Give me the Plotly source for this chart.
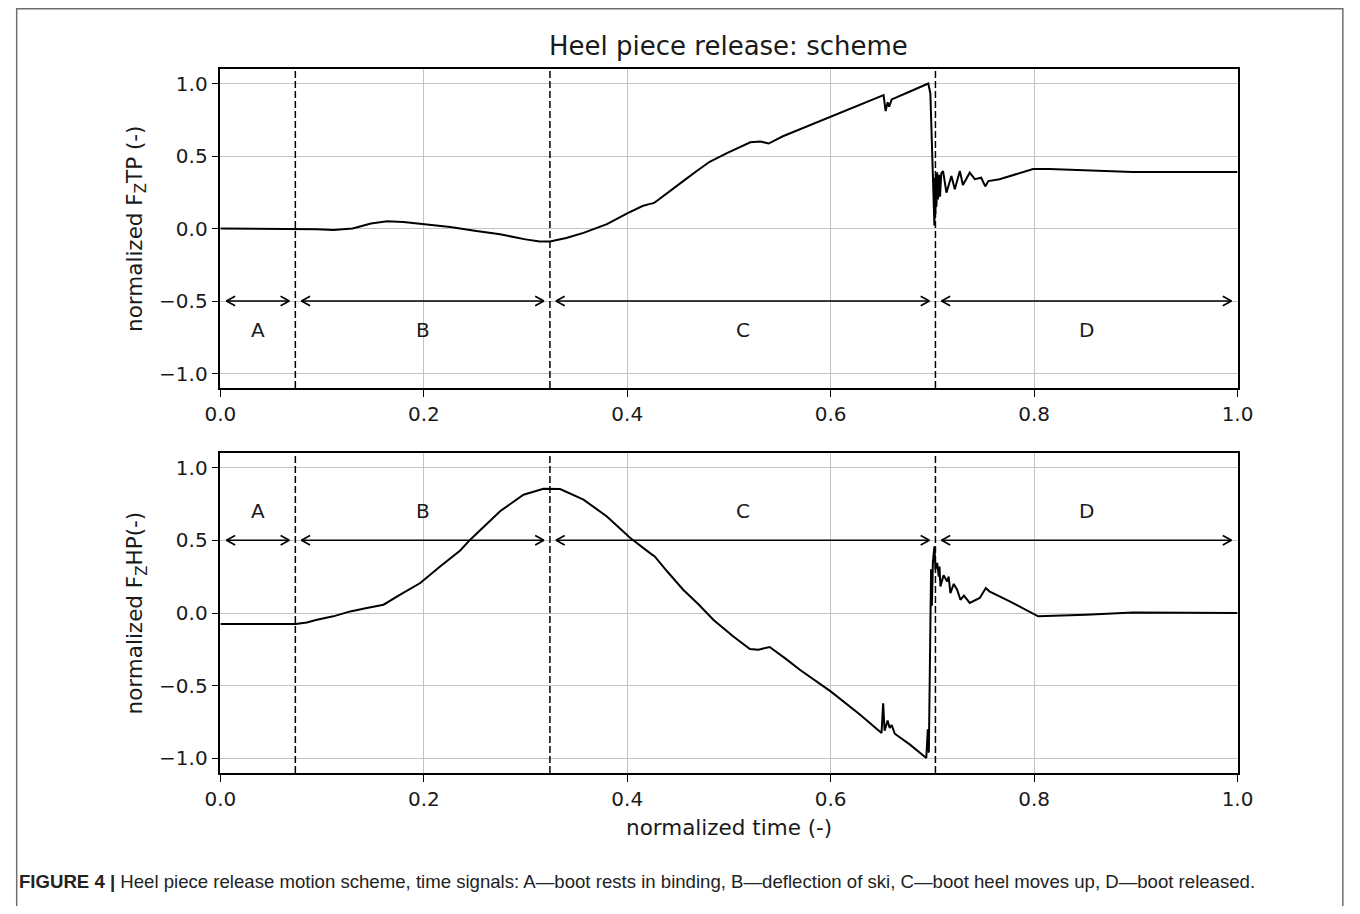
import plotly.graph_objects as go

# ---------------- data ----------------
t_tp = [0.0, 0.05, 0.074, 0.095, 0.111, 0.13, 0.148, 0.164, 0.18, 0.2, 0.226, 0.25, 0.275, 0.3,
        0.314, 0.324, 0.34, 0.357, 0.38, 0.40, 0.415, 0.4224, 0.426, 0.429, 0.44, 0.455, 0.468,
        0.481, 0.498, 0.51, 0.521, 0.531, 0.539, 0.553, 0.575, 0.6, 0.629, 0.650, 0.652, 0.654,
        0.656, 0.6575, 0.66, 0.678, 0.696, 0.698, 0.6995, 0.701, 0.702, 0.7025, 0.703, 0.7035,
        0.704, 0.7047, 0.7055, 0.7065, 0.7075, 0.7087, 0.7105, 0.7138, 0.7187, 0.722, 0.727,
        0.730, 0.7367, 0.7417, 0.748, 0.752, 0.755, 0.766, 0.7826, 0.799, 0.815, 0.848, 0.897, 1.0]
f_tp = [0.0, 0.0, 0.0, -0.005, -0.01, 0.0, 0.035, 0.05, 0.045, 0.03, 0.01, -0.015, -0.04, -0.075,
        -0.09, -0.09, -0.065, -0.03, 0.03, 0.105, 0.155, 0.17, 0.175, 0.19, 0.25, 0.327, 0.395,
        0.46, 0.52, 0.56, 0.595, 0.60, 0.586, 0.636, 0.70, 0.774, 0.854, 0.915, 0.92, 0.81,
        0.87, 0.84, 0.89, 0.945, 1.0, 0.93, 0.6, 0.25, 0.02, 0.35, 0.1, 0.38,
        0.15, 0.387, 0.2, 0.37, 0.22, 0.38, 0.396, 0.247, 0.362, 0.27, 0.396,
        0.30, 0.385, 0.34, 0.35, 0.29, 0.327, 0.34, 0.373, 0.41, 0.41, 0.40, 0.39, 0.39]

t_hp = [0.0, 0.074, 0.085, 0.095, 0.111, 0.1277, 0.144, 0.1604, 0.1768, 0.1965, 0.216, 0.2358,
        0.2456, 0.26, 0.275, 0.298, 0.3176, 0.334, 0.357, 0.380, 0.403, 0.4224, 0.427, 0.44, 0.455,
        0.47, 0.4846, 0.504, 0.5206, 0.529, 0.540, 0.555, 0.5697, 0.6, 0.629, 0.650, 0.6516, 0.653,
        0.656, 0.658, 0.66, 0.663, 0.678, 0.694, 0.6955, 0.6965, 0.6987, 0.6995, 0.7005, 0.702,
        0.703, 0.7047, 0.7063, 0.707, 0.7079, 0.711, 0.7145, 0.716, 0.7177, 0.721, 0.7243, 0.7276,
        0.731, 0.7367, 0.7466, 0.7525, 0.756, 0.776, 0.799, 0.804, 0.851, 0.897, 1.0]
f_hp = [-0.076, -0.076, -0.065, -0.046, -0.023, 0.011, 0.034, 0.057, 0.126, 0.206, 0.32, 0.43,
        0.504, 0.60, 0.70, 0.813, 0.854, 0.852, 0.779, 0.664, 0.515, 0.412, 0.389, 0.28, 0.16,
        0.06, -0.046, -0.16, -0.247, -0.252, -0.234, -0.31, -0.39, -0.539, -0.699, -0.825, -0.62, -0.81,
        -0.74, -0.79, -0.77, -0.83, -0.905, -0.997, -0.80, -0.96, 0.30, 0.05, 0.35, 0.458,
        0.30, 0.344, 0.25, 0.32, 0.183, 0.26, 0.217, 0.25, 0.137, 0.2, 0.16, 0.091,
        0.12, 0.069, 0.103, 0.172, 0.149, 0.08, 0.0, -0.023, -0.012, 0.004, 0.0]

phase_bounds = [0.0, 0.0737, 0.324, 0.703, 1.0]
phase_labels = ["A", "B", "C", "D"]
arrow_level = [-0.5, 0.5]      # top, bottom
label_level = [-0.7, 0.7]

x_ticks = [0.0, 0.2, 0.4, 0.6, 0.8, 1.0]
x_ticktext = ["0.0", "0.2", "0.4", "0.6", "0.8", "1.0"]
y_ticks = [-1.0, -0.5, 0.0, 0.5, 1.0]
y_ticktext = ["\u22121.0", "\u22120.5", "0.0", "0.5", "1.0"]

title_text = "Heel piece release: scheme"
ylabel_top = "normalized F<sub>Z</sub>TP (-)"
ylabel_bot = "normalized F<sub>Z</sub>HP(-)"
xlabel = "normalized time (-)"
caption = ("<b>FIGURE 4 |</b> Heel piece release motion scheme, time signals: A\u2014boot rests in binding, "
           "B\u2014deflection of ski, C\u2014boot heel moves up, D\u2014boot released.")

# ---------------- layout ----------------
OFF = 8                     # default body margin of the page
W, H = 1360 - 2 * OFF, 914 - 2 * OFF
SQ = 0.977                  # horizontal compression observed in the photographed page
FONT = "DejaVu Sans"
TXT = "#1a1a1a"


def px(sx):
    s = 680 + (sx - 680) / SQ
    return (s - OFF) / W


def py(sy):
    return 1 - (sy - OFF) / H


xl, xr = px(220), px(1238)
top_dom = [py(388), py(69)]
bot_dom = [py(773), py(453)]

fig = go.Figure()

line_style = dict(color="black", width=2.0)
fig.add_trace(go.Scatter(x=t_tp, y=f_tp, mode="lines", line=line_style, xaxis="x", yaxis="y",
                         showlegend=False, hoverinfo="skip"))
fig.add_trace(go.Scatter(x=t_hp, y=f_hp, mode="lines", line=line_style, xaxis="x2", yaxis="y2",
                         showlegend=False, hoverinfo="skip"))

gap = 0.006
hx, hy = 0.0085, 0.033
for k, (xa, ya) in enumerate([("x", "y"), ("x2", "y2")]):
    y0 = arrow_level[k]
    xs, ys = [], []
    for i in range(len(phase_labels)):
        a = phase_bounds[i] + gap
        b = phase_bounds[i + 1] - gap
        xs += [a, b, None]
        ys += [y0, y0, None]
        xs += [a + hx, a, a + hx, None, b - hx, b, b - hx, None]
        ys += [y0 + hy, y0, y0 - hy, None, y0 + hy, y0, y0 - hy, None]
    fig.add_trace(go.Scatter(x=xs, y=ys, mode="lines", line=dict(color="black", width=1.6),
                             xaxis=xa, yaxis=ya, showlegend=False, hoverinfo="skip"))
    for i, lab in enumerate(phase_labels):
        fig.add_annotation(x=(phase_bounds[i] + phase_bounds[i + 1]) / 2, y=label_level[k],
                           xref=xa, yref=ya, text=lab, showarrow=False,
                           xanchor="center", yanchor="middle",
                           font=dict(family=FONT, size=20, color=TXT))
    for xb in phase_bounds[1:-1]:
        fig.add_shape(type="line", x0=xb, x1=xb, y0=0, y1=1, xref=xa,
                      yref=("y domain" if ya == "y" else "y2 domain"),
                      line=dict(color="black", width=1.5, dash="7px,3px"))

axis_common = dict(range=[0, 1], tickvals=x_ticks, ticktext=x_ticktext, showgrid=True,
                   gridcolor="#c4c4c4", gridwidth=1.2, zeroline=False, showline=True,
                   linecolor="black", linewidth=1.5, mirror=True, ticks="outside", ticklen=7,
                   tickwidth=1.3, tickcolor="black",
                   tickfont=dict(family=FONT, size=20, color=TXT))
yaxis_common = dict(range=[-1.1, 1.1], tickvals=y_ticks, ticktext=y_ticktext, showgrid=True,
                    gridcolor="#c4c4c4", gridwidth=1.2, zeroline=False, showline=True,
                    linecolor="black", linewidth=1.5, mirror=True, ticks="outside", ticklen=7,
                    tickwidth=1.3, tickcolor="black",
                    tickfont=dict(family=FONT, size=20, color=TXT))

fig.update_layout(
    width=W, height=H, autosize=False,
    margin=dict(l=0, r=0, t=0, b=0),
    paper_bgcolor="white", plot_bgcolor="white",
    xaxis=dict(domain=[xl, xr], anchor="y", **axis_common),
    yaxis=dict(domain=top_dom, anchor="x", **yaxis_common),
    xaxis2=dict(domain=[xl, xr], anchor="y2", **axis_common),
    yaxis2=dict(domain=bot_dom, anchor="x2", **yaxis_common),
)

common_ann = dict(xref="paper", yref="paper", showarrow=False, xanchor="center", yanchor="middle")
fig.add_annotation(x=px(729), y=py(46), text=title_text, font=dict(family=FONT, size=26, color=TXT),
                   **common_ann)
fig.add_annotation(x=px(136), y=py(228.5), text=ylabel_top, textangle=-90,
                   font=dict(family=FONT, size=21.5, color=TXT), **common_ann)
fig.add_annotation(x=px(136), y=py(613), text=ylabel_bot, textangle=-90,
                   font=dict(family=FONT, size=21.5, color=TXT), **common_ann)
fig.add_annotation(x=px(729), y=py(827), text=xlabel, font=dict(family=FONT, size=21.5, color=TXT),
                   **common_ann)
fig.add_annotation(x=px(16), y=py(881), xref="paper", yref="paper", text=caption,
                   xanchor="left", yanchor="middle", showarrow=False,
                   font=dict(family="Liberation Sans", size=18.6, color="#222"))

# outer frame (left, top, right edges of the figure box)
fig.add_shape(type="rect", x0=-7.5 / W, x1=(1359 - OFF) / W, y0=-0.05, y1=1 - 0.8 / H,
              xref="paper", yref="paper", line=dict(color="#6e6e6e", width=1.5))

fig.write_html("out.html")
